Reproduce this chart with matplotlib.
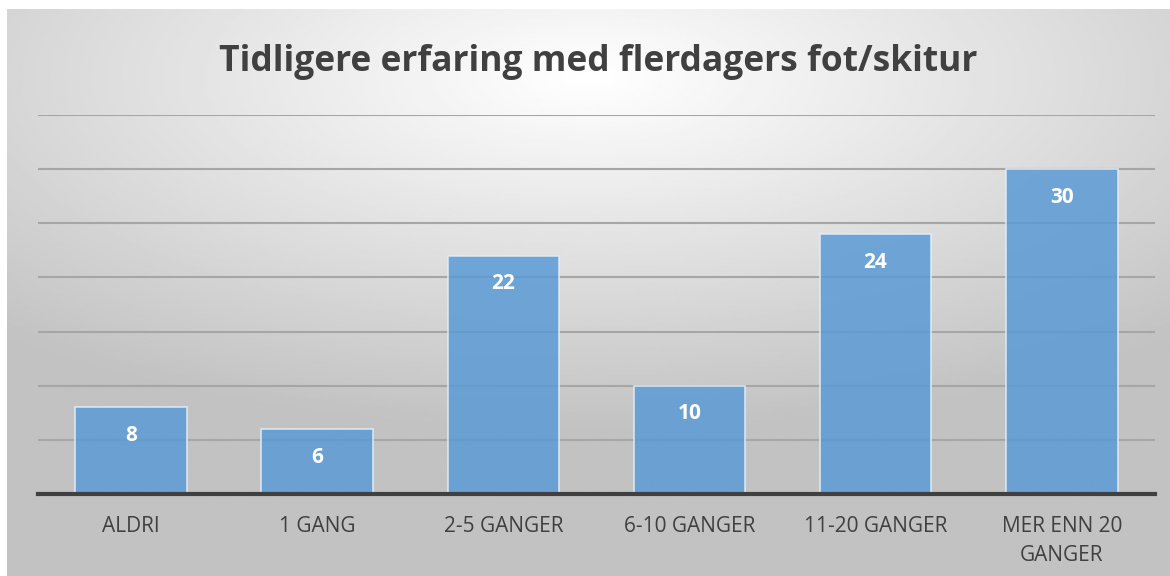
import numpy as np
from matplotlib import pyplot as plt

categories = ["ALDRI", "1 GANG", "2-5 GANGER", "6-10 GANGER", "11-20 GANGER", "MER ENN 20\nGANGER"]
values = [8, 6, 22, 10, 24, 30]
title = "Tidligere erfaring med flerdagers fot/skitur"

plt.rcParams['font.family'] = ['Open Sans', 'DejaVu Sans']

fig = plt.figure(figsize=(11.7, 5.76), dpi=100)

# radial gradient background (light near title, gray at edges)
bg = fig.add_axes([0.006, 0, 0.994, 0.984], zorder=0)
yy, xx = np.mgrid[0:1:300j, 0:1:600j]
r = np.sqrt(((xx - 0.5) * 1.0) ** 2 + ((yy - 0.12) * 1.2) ** 2)
shade = 1.0 - 0.24 * np.clip(r / 0.75, 0, 1)
bg.imshow(shade, cmap="gray", vmin=0, vmax=1, aspect="auto", extent=[0, 1, 1, 0])
bg.set_axis_off()

ax = fig.add_axes([0.0325, 0.1424, 0.9545, 0.658], zorder=1)
ax.patch.set_alpha(0)
x = np.arange(len(categories))
bars = ax.bar(x, values, width=0.6, color="#5b9bd5", alpha=0.85,
              edgecolor="#e4eef8", linewidth=1.2, zorder=2)
for b, v in zip(bars, values):
    ax.annotate(str(v), (b.get_x() + b.get_width() / 2, v), xytext=(0, -28),
                textcoords="offset pixels",
                ha="center", va="center", color="white", fontsize=15,
                fontweight="bold", zorder=3)

ax.set_xlim(-0.5, len(categories) - 0.5)
ax.set_ylim(0, 35)
ax.set_yticks(range(5, 36, 5))
ax.yaxis.grid(True, color="#a6a6a6", linewidth=1.5, zorder=1)
ax.set_axisbelow(True)
ax.tick_params(axis="y", left=False, labelleft=False)
ax.tick_params(axis="x", length=0, pad=16, labelsize=15, labelcolor="#404040")
ax.set_xticks(x)
ax.set_xticklabels(categories, linespacing=1.5)
for s in ["top", "right", "left"]:
    ax.spines[s].set_visible(False)
ax.spines["bottom"].set_color("#404040")
ax.spines["bottom"].set_linewidth(3)
ax.spines["bottom"].set_zorder(4)

fig.text(0.511, 0.893, title, ha="center", va="center", fontsize=25.5,
         fontweight="bold", color="#404040")

fig.savefig("out.png", dpi=100)
